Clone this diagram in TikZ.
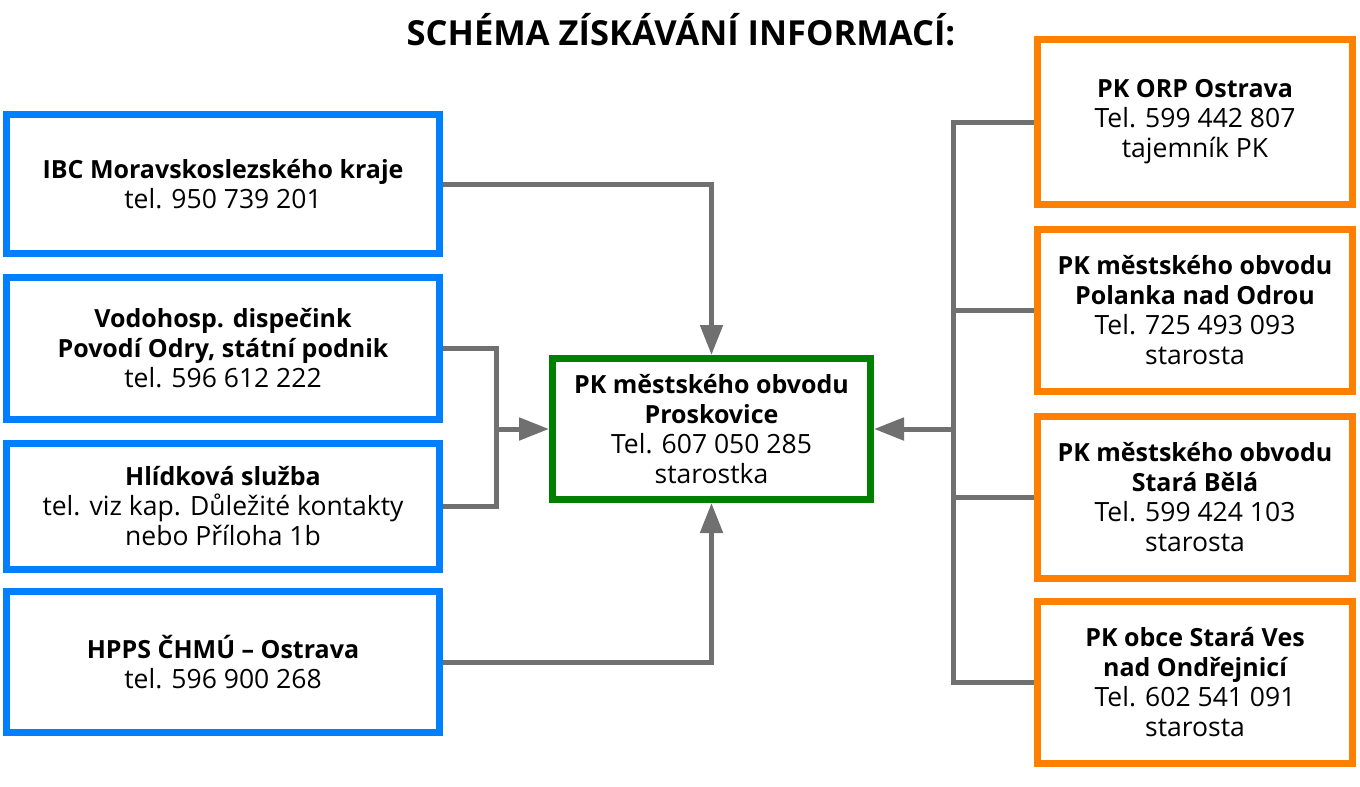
\documentclass[tikz,border=0pt]{standalone}
\usepackage{fontspec}
\setmainfont{Open Sans}
\usetikzlibrary{arrows.meta}
\definecolor{cblue}{RGB}{0,128,255}
\definecolor{corange}{RGB}{255,128,0}
\definecolor{cgreen}{RGB}{0,128,0}
\definecolor{cgray}{RGB}{112,112,112}
\newcommand{\bl}[1]{{\fontsize{25}{30}\selectfont\bfseries #1}}
\begin{document}
\begin{tikzpicture}[x=1pt,y=-1pt,
  box/.style={draw, line width=7pt, rectangle, align=center, inner sep=0pt, fill=white,
    font=\fontsize{26.5}{30}\selectfont},
  bluebox/.style={box, draw=cblue, minimum width=433pt},
  orangebox/.style={box, draw=corange, minimum width=315pt},
  greenbox/.style={box, draw=cgreen, minimum width=318pt, minimum height=141pt},
  conn/.style={draw=cgray, line width=5pt},
  arr/.style={conn, -{Triangle[length=30pt,width=22pt]}}]
\useasboundingbox[fill=white] (0,0) rectangle (1360,787);
\node[font=\fontsize{34.5}{40}\selectfont\bfseries, anchor=base, inner sep=0pt] (title) at (681,45) {SCHÉMA ZÍSKÁVÁNÍ INFORMACÍ:};

\node[bluebox, minimum height=139pt] (b1) at (223,184) {\bl{IBC Moravskoslezského kraje}\\tel. 950 739 201};
\node[bluebox, minimum height=142pt] (b2) at (223,348.5) {\bl{Vodohosp. dispečink}\\\bl{Povodí Odry, státní podnik}\\tel. 596 612 222};
\node[bluebox, minimum height=126pt] (b3) at (223,506.5) {\bl{Hlídková služba}\\tel. viz kap. Důležité kontakty\\nebo Příloha 1b};
\node[bluebox, minimum height=141pt] (b4) at (223,662) {\bl{HPPS ČHMÚ – Ostrava}\\tel. 596 900 268};

\node[greenbox] (g) at (711.5,429) {\bl{PK městského obvodu}\\\bl{Proskovice}\\Tel. 607 050 285\\starostka};

\node[orangebox, minimum height=165pt] (r1) at (1195,122) {\bl{PK ORP Ostrava}\\Tel. 599 442 807\\tajemník PK};
\node[orangebox, minimum height=162pt] (r2) at (1195,310.5) {\bl{PK městského obvodu}\\\bl{Polanka nad Odrou}\\Tel. 725 493 093\\starosta};
\node[orangebox, minimum height=162pt] (r3) at (1195,497.5) {\bl{PK městského obvodu}\\\bl{Stará Bělá}\\Tel. 599 424 103\\starosta};
\node[orangebox, minimum height=162pt] (r4) at (1195,682.5) {\bl{PK obce Stará Ves}\\\bl{nad Ondřejnicí}\\Tel. 602 541 091\\starosta};

\coordinate (lj) at (496,429);
\coordinate (rj) at (953,429);

\draw[arr] (b1.east) -| (g.north);
\draw[arr] (b4.east) -| (g.south);
\draw[conn] (b2.east) -| (lj) |- (b3.east);
\draw[arr] (lj) -- (g.west);
\draw[conn] (r1.west) -| (rj) |- (r4.west);
\draw[conn] (r2.west) -- (r2.west -| rj);
\draw[conn] (r3.west) -- (r3.west -| rj);
\draw[arr] (rj) -- (g.east);
\end{tikzpicture}
\end{document}
